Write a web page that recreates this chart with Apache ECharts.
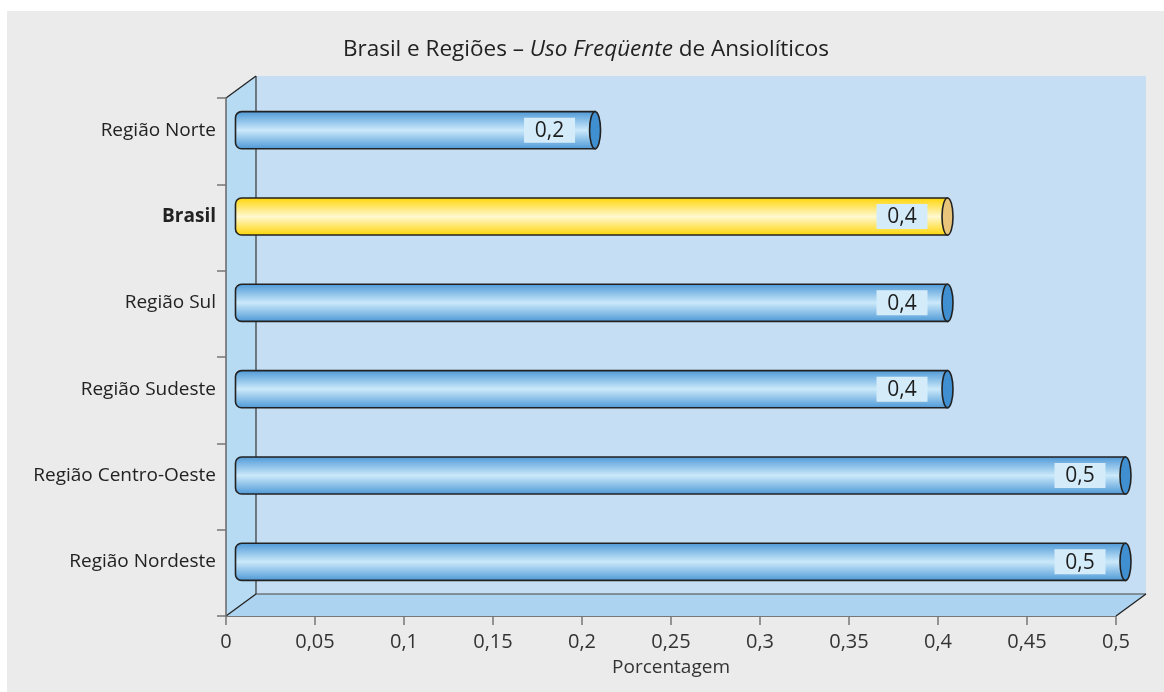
<!DOCTYPE html>
<html>
<head>
<meta charset="utf-8">
<script src="https://cdn.jsdelivr.net/npm/echarts@6/dist/echarts.min.js"></script>
<style>
html,body{margin:0;padding:0;background:#ffffff;}
#chart{width:1164px;height:692px;}
</style>
</head>
<body>
<div id="chart"></div>
<script>
// ---- data ----
const categories = ['Região Norte', 'Brasil', 'Região Sul', 'Região Sudeste', 'Região Centro-Oeste', 'Região Nordeste'];
const values = [0.202, 0.4, 0.4, 0.4, 0.5, 0.5];
const valueLabels = ['0,2', '0,4', '0,4', '0,4', '0,5', '0,5'];
const xTickLabels = ['0', '0,05', '0,1', '0,15', '0,2', '0,25', '0,3', '0,35', '0,4', '0,45', '0,5'];
const highlightCategory = 'Brasil';

// ---- style constants ----
const FONT = '"Open Sans", "Noto Sans", sans-serif';
const DX = 30, DY = 22;          // 3D depth of walls
const OX = 9.5, OY = -11;        // bar offset into depth
const C_BACK = '#c6def3', C_SIDE = '#b7dbf3', C_FLOOR = '#acd4f0';

const chart = echarts.init(document.getElementById('chart'), null, {renderer: 'canvas'});

function grad(c0, c1) {
  return {type: 'linear', x: 0, y: 0, x2: 0, y2: 1,
    colorStops: [{offset: 0, color: c0}, {offset: 0.5, color: c1}, {offset: 1, color: c0}]};
}

const option = {
  backgroundColor: '#ffffff',
  animation: false,
  graphic: [{type: 'rect', z: -10, shape: {x: 7, y: 11, width: 1157, height: 681}, style: {fill: '#eaebea'}}],
  title: {
    left: 581, top: 33, textAlign: 'center',
    text: '{a|Brasil e Regiões – }{i|Uso Freqüente}{a| de Ansiolíticos}',
    textStyle: {
      fontWeight: 'normal', fontSize: 22.5, fontFamily: FONT, color: '#222',
      rich: {
        a: {fontSize: 22.5, color: '#222', fontFamily: FONT, fontWeight: 'normal'},
        i: {fontSize: 22.5, color: '#222', fontFamily: FONT, fontWeight: 'normal', fontStyle: 'italic'}
      }
    }
  },
  grid: {left: 226, right: 48, top: 98, bottom: 76, containLabel: false},
  xAxis: {
    type: 'value', min: 0, max: 0.5, interval: 0.05, z: 3,
    axisLine: {show: true, lineStyle: {color: '#777', width: 1}},
    axisTick: {show: true, length: 9, lineStyle: {color: '#777', width: 1.5}},
    splitLine: {show: false},
    axisLabel: {
      fontSize: 20, color: '#333', fontFamily: FONT, margin: 16,
      formatter: v => xTickLabels[Math.round(v / 0.05)]
    },
    name: 'Porcentagem', nameLocation: 'middle', nameGap: 42,
    nameTextStyle: {fontSize: 19, color: '#333', fontFamily: FONT}
  },
  yAxis: {
    type: 'category', data: categories, inverse: true, z: 3,
    axisLine: {show: true, lineStyle: {color: '#666', width: 1.5}},
    axisTick: {show: true, length: 9, lineStyle: {color: '#777', width: 1.5}},
    splitLine: {show: false},
    axisLabel: {
      fontSize: 19, color: '#222', fontFamily: FONT, margin: 10,
      padding: [0, 0, 22, 0],
      formatter: v => v === highlightCategory ? '{b|' + v + '}' : v,
      rich: {b: {fontSize: 19, color: '#222', fontFamily: FONT, fontWeight: 'bold'}}
    }
  },
  series: [
    {
      type: 'custom', z: 1, silent: true,
      data: [[0, 0]],
      renderItem: function (params, api) {
        const cs = params.coordSys;
        const x0 = cs.x, y0 = cs.y, x1 = cs.x + cs.width, y1 = cs.y + cs.height;
        const ln = (a, b, c, d, col, w) => ({type: 'line', shape: {x1: a, y1: b, x2: c, y2: d}, style: {stroke: col, lineWidth: w || 1.2}});
        return {
          type: 'group',
          children: [
            {type: 'rect', shape: {x: x0 + DX, y: y0 - DY, width: x1 - x0, height: y1 - y0}, style: {fill: C_BACK}},
            {type: 'polygon', shape: {points: [[x0, y0], [x0 + DX, y0 - DY], [x0 + DX, y1 - DY], [x0, y1]]}, style: {fill: C_SIDE}},
            {type: 'polygon', shape: {points: [[x0, y1], [x0 + DX, y1 - DY], [x1 + DX, y1 - DY], [x1, y1]]}, style: {fill: C_FLOOR}},
            ln(x0 + DX, y0 - DY, x0 + DX, y1 - DY, '#333', 1.2),
            ln(x0 + DX, y1 - DY, x1 + DX, y1 - DY, '#444', 1.2),
            ln(x0, y0, x0 + DX, y0 - DY, '#222', 1.3),
            ln(x0, y1, x0 + DX, y1 - DY, '#222', 1.3),
            ln(x1, y1, x1 + DX, y1 - DY, '#222', 1.3)
          ]
        };
      }
    },
    {
      type: 'custom', z: 4, clip: false,
      data: values.map((v, i) => [v, i]),
      renderItem: function (params, api) {
        const v = api.value(0), idx = api.value(1);
        const p0 = api.coord([0, idx]), p1 = api.coord([v, idx]);
        const h = api.size([0, 1])[1] * 0.43;
        const xa = p0[0] + OX, xb = p1[0] + OX, cy = p0[1] + OY;
        const hl = categories[idx] === highlightCategory;
        const fill = hl ? grad('#ffd400', '#fff8d0') : grad('#4b97d6', '#cbe9fa');
        const endFill = hl ? '#e8c57a' : '#3f8fd1';
        const bw = 51, bh = 25, gap = 20;
        return {
          type: 'group',
          children: [
            {type: 'rect', shape: {x: xa, y: cy - h / 2, width: xb - xa, height: h, r: [6, 0, 0, 6]},
             style: {fill: fill, stroke: '#222', lineWidth: 1.6}},
            {type: 'ellipse', shape: {cx: xb, cy: cy, rx: 5.5, ry: h / 2},
             style: {fill: endFill, stroke: '#222', lineWidth: 1.6}},
            {type: 'rect', shape: {x: xb - gap - bw, y: cy - bh / 2, width: bw, height: bh},
             style: {fill: '#d4ecf9'}},
            {type: 'text', style: {x: xb - gap - bw / 2, y: cy + 1, text: valueLabels[idx], align: 'center', verticalAlign: 'middle',
             fontSize: 21, fill: '#1e1e1e', fontFamily: FONT}}
          ]
        };
      }
    }
  ]
};
chart.setOption(option);
</script>
</body>
</html>
